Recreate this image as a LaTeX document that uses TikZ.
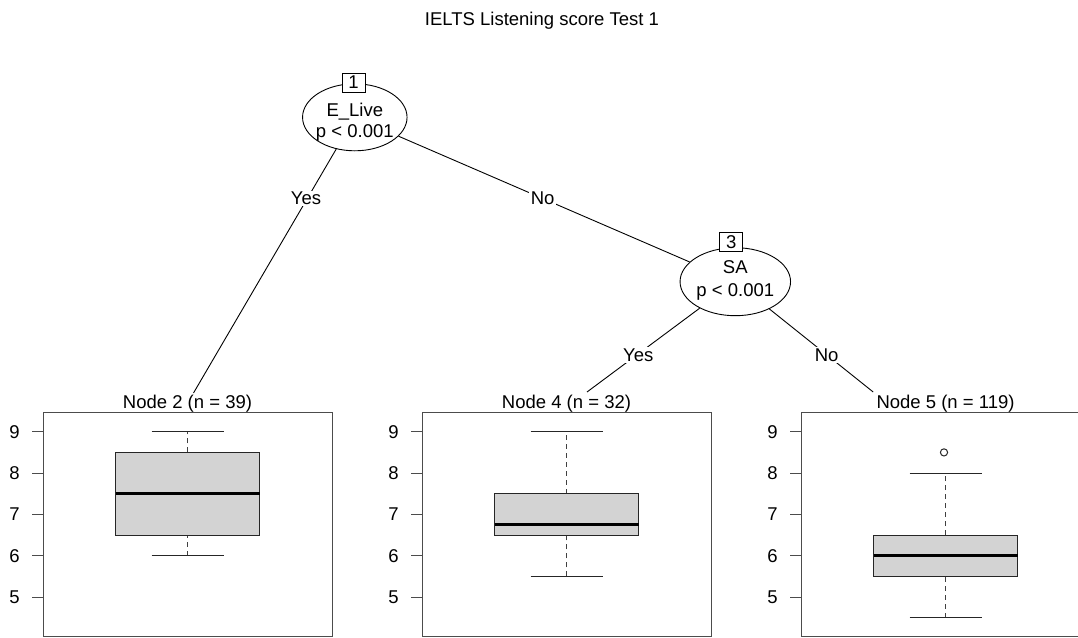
\documentclass[tikz,border=0pt]{standalone}
\usepackage{fontspec}
\setmainfont{Liberation Sans}
\usetikzlibrary{shapes.geometric}
\definecolor{boxgray}{RGB}{211,211,211}
\newcommand\bxpanel[8]{% id, cx, title, q1, med, q3, lo, hi
  \draw[frame] (#2-144.5,412.7) rectangle (#2+144.5,636.7);
  \node[anchor=base] (title#1) at (#2,408) {#3};
  \begin{scope}[shift={(#2,803.85)}, y=41.35pt]
    \foreach \v in {5,...,9} {
      \draw[tickln] (-155.5,\v) -- (-144.5,\v);
      \node (tk#1\v) at (-173,\v) {\v};
    }
    \draw[whisk] (0,#7) -- (0,#4) (0,#6) -- (0,#8);
    \draw[capln] (-36,#7) -- (36,#7) (-36,#8) -- (36,#8);
    \draw[bx] (-72,#4) rectangle (72,#6);
    \draw[medln] (-72,#5) -- (72,#5);
  \end{scope}}
\begin{document}
\begin{tikzpicture}[x=1pt,y=-1pt,
  every node/.style={font=\fontsize{18.5}{22}\selectfont, inner sep=0pt},
  split/.style={ellipse, draw, fill=white, line width=0.9pt},
  idbox/.style={draw, fill=white, minimum width=23pt, minimum height=19pt, line width=0.9pt},
  lab/.style={fill=white, inner sep=1.5pt},
  edge/.style={line width=0.9pt},
  frame/.style={draw=black!70, line width=1pt},
  tickln/.style={draw=black!70, line width=1pt},
  whisk/.style={black!75, line width=1pt, dash pattern=on 5pt off 4pt},
  capln/.style={black!85, line width=1pt},
  bx/.style={draw=black!85, fill=boxgray, line width=1pt},
  medln/.style={black, line width=3pt},
]
\useasboundingbox (0,0) rectangle (1078,637);
\clip (0,0) rectangle (1078,637);
\fill[white] (0,0) rectangle (1078,637);

\node[anchor=base] (title) at (542,25) {IELTS Listening score Test 1};

% inner nodes
\node[split, minimum width=104.5pt, minimum height=67pt] (n1) at (354.8,117.3) {};
\node[split, minimum width=110.5pt, minimum height=68pt] (n3) at (735.3,281.7) {};
\node[idbox] (id1) at (353.5,82.5) {1};
\node[idbox] (id3) at (731.3,242.3) {3};
\node[anchor=base] (n1v) at (354.8,116.7) {E\_Live};
\node[anchor=base] (n1p) at (354.8,137.3) {p < 0.001};
\node[anchor=base] (n3v) at (735.3,273.3) {SA};
\node[anchor=base] (n3p) at (735.3,296.2) {p < 0.001};

% terminal panels
\bxpanel{a}{187.5}{Node 2 (n = 39)}{6.5}{7.5}{8.5}{6}{9}
\bxpanel{b}{566.5}{Node 4 (n = 32)}{6.5}{6.75}{7.5}{5.5}{9}
\bxpanel{c}{945.5}{Node 5 (n = 119)}{5.5}{6}{6.5}{4.5}{8}
\draw[black!85, line width=1pt] (944,452.4) circle (3.6pt);

% edge end points
\coordinate (t2) at (193.5,393);
\coordinate (t4) at (587,392);
\coordinate (t5) at (873.2,392);

\draw[edge] (n1) -- (t2);
\draw[edge] (n1) -- (n3);
\draw[edge] (n3) -- (t4);
\draw[edge] (n3) -- (t5);

\node[lab] (l12) at (306,198.5) {Yes};
\node[lab] (l13) at (542.7,198.5) {No};
\node[lab] (l34) at (638.3,355) {Yes};
\node[lab] (l35) at (826.7,355) {No};
\end{tikzpicture}
\end{document}
